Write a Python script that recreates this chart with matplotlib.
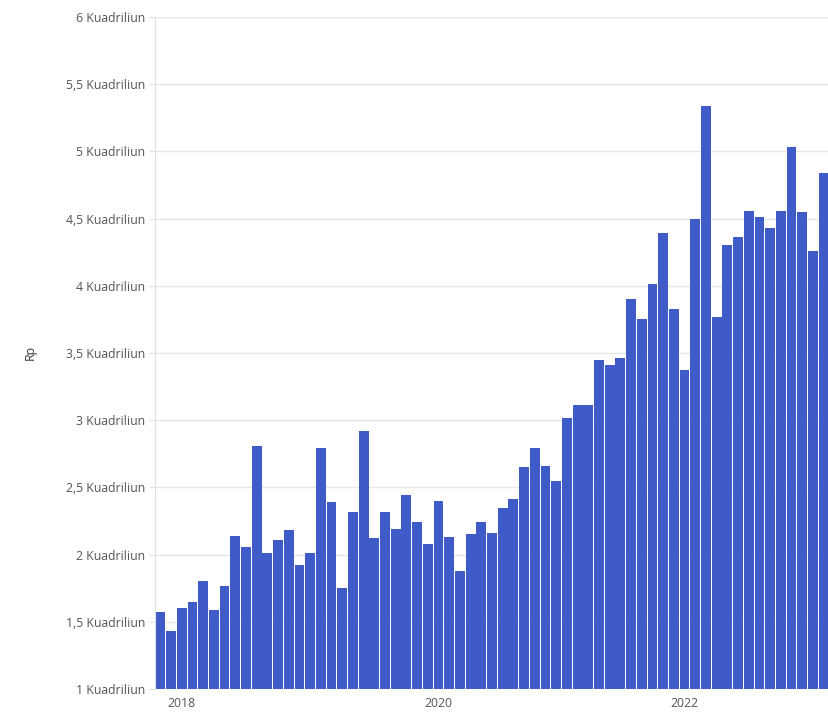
import matplotlib
matplotlib.use("Agg")
import matplotlib.pyplot as plt
from matplotlib.ticker import FuncFormatter

# monthly values, in Kuadriliun Rp
values = [1.57, 1.43, 1.60, 1.65, 1.80, 1.59, 1.77, 2.14, 2.06, 2.81,
          2.01, 2.11, 2.18, 1.92, 2.01, 2.79, 2.39, 1.75, 2.32, 2.92,
          2.12, 2.32, 2.19, 2.44, 2.24, 2.08, 2.40, 2.13, 1.88, 2.15,
          2.24, 2.16, 2.35, 2.41, 2.65, 2.79, 2.66, 2.55, 3.02, 3.11,
          3.11, 3.45, 3.41, 3.46, 3.90, 3.75, 4.01, 4.39, 3.83, 3.37,
          4.50, 5.34, 3.77, 4.30, 4.36, 4.56, 4.51, 4.43, 4.56, 5.03,
          4.55, 4.26, 4.84]
year_labels = ["2018", "2020", "2022"]
year_bar_index = [2, 26, 49]
y_ticks = [1, 1.5, 2, 2.5, 3, 3.5, 4, 4.5, 5, 5.5, 6]
y_label = "Rp"

plt.rcParams['font.family'] = ['Open Sans', 'DejaVu Sans']

fig = plt.figure(figsize=(8.29, 7.13), dpi=100)
ax = fig.add_axes([155/829, 1 - 689/713, 1 - 155/829, (689 - 17)/713])

x = list(range(len(values)))
ax.bar(x, values, width=0.92, color="#3f5bc8", zorder=2)

ax.set_xlim(-0.5, len(values) - 0.5)
ax.set_ylim(1, 6)
ax.set_yticks(y_ticks)

def fmt(v, pos):
    s = f"{v:g}".replace(".", ",")
    return f"{s} Kuadriliun"
ax.yaxis.set_major_formatter(FuncFormatter(fmt))

ax.set_xticks(year_bar_index)
ax.set_xticklabels(year_labels)

ax.grid(axis="y", color="#e6e6e6", linewidth=1, zorder=0)
ax.grid(axis="x", visible=False)
for s in ["top", "right", "bottom"]:
    ax.spines[s].set_visible(False)
ax.spines["left"].set_color("#e0e0e0")
ax.tick_params(axis="y", colors="#e0e0e0", labelcolor="#555555", labelsize=8.8, length=4, pad=3)
ax.tick_params(axis="x", length=0, labelcolor="#555555", labelsize=8.8, pad=6)

fig.text(30/829, 1 - 352/713, y_label, rotation=90, ha="center", va="center",
         fontsize=8.8, color="#333333")

fig.savefig("out.png", dpi=100)
